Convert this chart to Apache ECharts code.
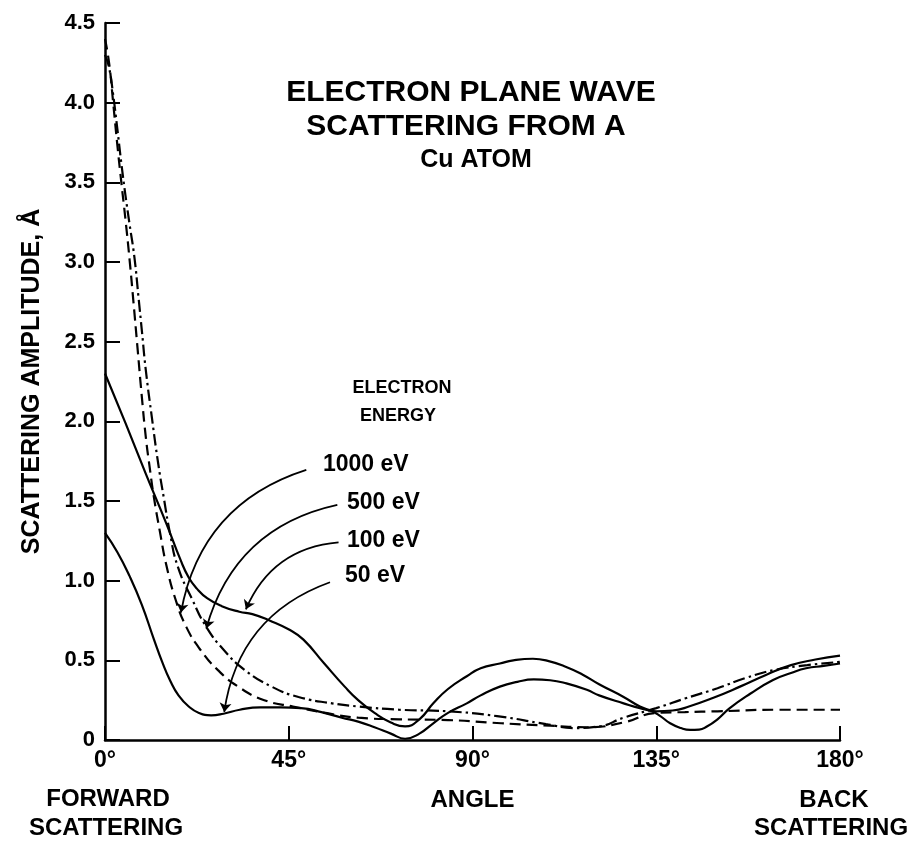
<!DOCTYPE html>
<html>
<head>
<meta charset="utf-8">
<script src="https://cdn.jsdelivr.net/npm/echarts@6/dist/echarts.min.js"></script>
<style>
html,body{margin:0;padding:0;background:#fff;}
#chart{width:917px;height:844px;}
</style>
</head>
<body>
<div id="chart"></div>
<script>
// ---- data (angle in degrees, amplitude in Å) ----
const xTicks = [0, 45, 90, 135, 180];
const yTicks = [0, 0.5, 1.0, 1.5, 2.0, 2.5, 3.0, 3.5, 4.0, 4.5];

const angle1000 = [0, 1, 2, 3, 4, 5, 6, 7, 8, 9, 10, 11, 12, 13.5, 15, 17.3, 19.9, 23.4, 27.6, 32.6, 39, 46, 54, 62, 72, 84, 97, 109, 118, 127, 135, 142, 150, 165, 180];
const amp1000   = [4.4, 4.25, 4.0, 3.74, 3.5, 3.27, 3.02, 2.74, 2.45, 2.16, 1.9, 1.7, 1.52, 1.30, 1.10, 0.88, 0.71, 0.565, 0.44, 0.335, 0.25, 0.21, 0.17, 0.14, 0.13, 0.125, 0.105, 0.09, 0.08, 0.11, 0.17, 0.175, 0.18, 0.19, 0.19];

const angle500 = [0, 1, 2, 3, 4, 5, 6, 7.2, 8.2, 9.1, 10, 11.5, 13, 14.4, 15.9, 17.8, 21.4, 24.8, 29.1, 34.2, 40.8, 47.4, 55.6, 62.2, 72, 84, 96, 108, 115, 121, 127, 135, 142, 150, 157, 164, 172, 180];
const amp500   = [4.3, 4.22, 4.05, 3.84, 3.62, 3.42, 3.24, 3.03, 2.78, 2.55, 2.32, 2.02, 1.74, 1.52, 1.30, 1.09, 0.88, 0.71, 0.565, 0.44, 0.335, 0.27, 0.23, 0.21, 0.19, 0.18, 0.15, 0.1, 0.075, 0.085, 0.14, 0.2, 0.26, 0.325, 0.39, 0.44, 0.47, 0.49];

const angle100 = [0, 5, 10, 15, 18.5, 20.5, 22.5, 25, 28.6, 32.9, 36.1, 40.3, 45.3, 48.6, 53.7, 58.7, 62, 66, 70, 73.5, 77, 80.4, 84, 88.6, 92, 96.7, 100, 104.8, 108, 112.8, 117, 121, 127, 131, 134, 136, 138.4, 141, 143.3, 145.5, 147.3, 150, 153, 158, 163.6, 168, 171.7, 176, 180];
const amp100   = [2.3, 1.99, 1.67, 1.36, 1.13, 1.02, 0.95, 0.89, 0.84, 0.805, 0.79, 0.75, 0.69, 0.63, 0.48, 0.335, 0.25, 0.17, 0.11, 0.085, 0.13, 0.23, 0.32, 0.4, 0.45, 0.48, 0.5, 0.51, 0.5, 0.46, 0.41, 0.35, 0.27, 0.21, 0.18, 0.15, 0.105, 0.075, 0.063, 0.065, 0.083, 0.13, 0.2, 0.29, 0.377, 0.42, 0.45, 0.465, 0.48];

const angle50 = [0, 3, 6, 9, 12, 14, 16, 18, 20.5, 23, 26, 29, 33, 38, 43, 48, 53, 58, 62, 66, 70, 73.5, 77, 80.4, 84, 88.6, 92, 96.7, 101, 105, 109, 113, 118, 121, 127, 131, 135, 139, 143, 149, 155.5, 162, 168, 174, 180];
const amp50   = [1.30, 1.18, 1.03, 0.85, 0.63, 0.49, 0.37, 0.28, 0.21, 0.17, 0.155, 0.165, 0.19, 0.205, 0.205, 0.2, 0.175, 0.14, 0.115, 0.08, 0.04, 0.008, 0.04, 0.105, 0.17, 0.23, 0.28, 0.335, 0.365, 0.38, 0.375, 0.355, 0.315, 0.28, 0.23, 0.2, 0.18, 0.185, 0.21, 0.265, 0.335, 0.41, 0.47, 0.505, 0.53];

// annotation arrows: label anchor -> point on curve (angle, amplitude)
const arrow1000 = [[49.3, 1.695], [18.6, 0.80]];
const arrow500  = [[56.9, 1.475], [24.8, 0.70]];
const arrow100  = [[57.2, 1.24], [34.5, 0.82]];
const arrow50   = [[55.1, 0.99], [29.2, 0.176]];

const titleLines = ['ELECTRON PLANE WAVE', 'SCATTERING FROM A', 'Cu ATOM'];
const energyLabels = ['1000 eV', '500 eV', '100 eV', '50 eV'];

function zip(a, b) { return a.map((v, i) => [v, b[i]]); }

const FONT = '"Liberation Sans", Arial, Helvetica, sans-serif';
const chart = echarts.init(document.getElementById('chart'), null, {renderer: 'canvas'});

const lineBase = {type: 'line', showSymbol: false, symbol: 'none', smooth: 0.5, silent: true, z: 3};

const arrowSeries = [arrow1000, arrow500, arrow100, arrow50].map(a => ({
  type: 'lines', coordinateSystem: 'cartesian2d', polyline: false, silent: true, z: 4,
  symbol: ['none', 'arrow'], symbolSize: 9,
  lineStyle: {color: '#000', width: 1.8, curveness: -0.3, opacity: 1},
  data: [{coords: a}]
}));

const option = {
  backgroundColor: '#ffffff',
  animation: false,
  grid: {left: 105, right: 77, top: 23, bottom: 104, containLabel: false},
  xAxis: {
    type: 'value', min: 0, max: 180, interval: 45,
    name: 'ANGLE', nameLocation: 'middle', nameGap: 48,
    nameTextStyle: {fontFamily: FONT, fontWeight: 'bold', fontSize: 24, color: '#000'},
    axisLine: {show: true, onZero: false, lineStyle: {color: '#000', width: 2.5}},
    axisTick: {show: true, inside: true, length: 14, lineStyle: {color: '#000', width: 2}},
    axisLabel: {margin: 9, fontFamily: FONT, fontWeight: 'bold', fontSize: 23, color: '#000',
      formatter: v => xTicks.includes(v) ? v + '°' : ''},
    splitLine: {show: false}
  },
  yAxis: {
    type: 'value', min: 0, max: 4.5, interval: 0.5,
    name: 'SCATTERING AMPLITUDE, Å', nameLocation: 'middle', nameGap: 60, nameRotate: 90,
    nameTextStyle: {fontFamily: FONT, fontWeight: 'bold', fontSize: 25, color: '#000'},
    axisLine: {show: true, onZero: false, lineStyle: {color: '#000', width: 2.5}},
    axisTick: {show: true, inside: true, length: 15, lineStyle: {color: '#000', width: 2}},
    axisLabel: {margin: 10, fontFamily: FONT, fontWeight: 'bold', fontSize: 22, color: '#000',
      formatter: v => yTicks.includes(v) ? (v === 0 ? '0' : v.toFixed(1)) : ''},
    splitLine: {show: false}
  },
  series: [
    Object.assign({}, lineBase, {name: '1000 eV', data: zip(angle1000, amp1000),
      lineStyle: {color: '#000', width: 2.2, type: [11, 6]}}),
    Object.assign({}, lineBase, {name: '500 eV', data: zip(angle500, amp500),
      lineStyle: {color: '#000', width: 2.2, type: [12, 4, 2.5, 4]}}),
    Object.assign({}, lineBase, {name: '100 eV', data: zip(angle100, amp100),
      lineStyle: {color: '#000', width: 2.2, type: 'solid'}}),
    Object.assign({}, lineBase, {name: '50 eV', data: zip(angle50, amp50),
      lineStyle: {color: '#000', width: 2.2, type: 'solid'}})
  ].concat(arrowSeries),
  graphic: [
    {type: 'text', x: 471, y: 93, style: {text: titleLines[0], align: 'center', verticalAlign: 'middle', font: 'bold 30px ' + FONT, fill: '#000'}},
    {type: 'text', x: 466, y: 127, style: {text: titleLines[1], align: 'center', verticalAlign: 'middle', font: 'bold 30px ' + FONT, fill: '#000'}},
    {type: 'text', x: 476, y: 160, style: {text: titleLines[2], align: 'center', verticalAlign: 'middle', font: 'bold 25px ' + FONT, fill: '#000'}},
    {type: 'text', x: 402, y: 388, style: {text: 'ELECTRON', align: 'center', verticalAlign: 'middle', font: 'bold 18px ' + FONT, fill: '#000'}},
    {type: 'text', x: 398, y: 416, style: {text: 'ENERGY', align: 'center', verticalAlign: 'middle', font: 'bold 18px ' + FONT, fill: '#000'}},
    {type: 'text', x: 323, y: 465, style: {text: energyLabels[0], align: 'left', verticalAlign: 'middle', font: 'bold 23px ' + FONT, fill: '#000'}},
    {type: 'text', x: 347, y: 503, style: {text: energyLabels[1], align: 'left', verticalAlign: 'middle', font: 'bold 23px ' + FONT, fill: '#000'}},
    {type: 'text', x: 347, y: 541, style: {text: energyLabels[2], align: 'left', verticalAlign: 'middle', font: 'bold 23px ' + FONT, fill: '#000'}},
    {type: 'text', x: 345, y: 576, style: {text: energyLabels[3], align: 'left', verticalAlign: 'middle', font: 'bold 23px ' + FONT, fill: '#000'}},
    {type: 'text', x: 108, y: 799, style: {text: 'FORWARD', align: 'center', verticalAlign: 'middle', font: 'bold 24px ' + FONT, fill: '#000'}},
    {type: 'text', x: 106, y: 828, style: {text: 'SCATTERING', align: 'center', verticalAlign: 'middle', font: 'bold 24px ' + FONT, fill: '#000'}},
    {type: 'text', x: 834, y: 800, style: {text: 'BACK', align: 'center', verticalAlign: 'middle', font: 'bold 24px ' + FONT, fill: '#000'}},
    {type: 'text', x: 831, y: 828, style: {text: 'SCATTERING', align: 'center', verticalAlign: 'middle', font: 'bold 24px ' + FONT, fill: '#000'}}
  ]
};
chart.setOption(option);
</script>
</body>
</html>
